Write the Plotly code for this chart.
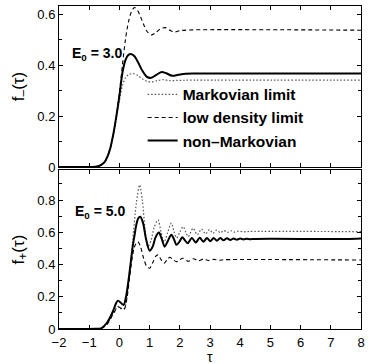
import plotly.graph_objects as go
from plotly.subplots import make_subplots

# ---------- data: upper panel (E0 = 3.0), f_-(tau) ----------
top_markov_t = [-2, -1, -0.8, -0.67, -0.5, -0.4, -0.3, -0.2, -0.1, 0.0, 0.1, 0.2, 0.3, 0.45,
                0.6, 0.75, 0.9, 1.05, 1.25, 1.45, 1.65, 1.9, 2.5, 8]
top_markov_f = [0, 0, 0.001, 0.004, 0.017, 0.038, 0.072, 0.125, 0.195, 0.26, 0.32, 0.35, 0.362, 0.367,
                0.36, 0.347, 0.337, 0.334, 0.339, 0.343, 0.339, 0.34, 0.341, 0.341]

top_lowdens_t = [-2, -1, -0.8, -0.67, -0.5, -0.4, -0.3, -0.2, -0.1, 0.0, 0.1, 0.2, 0.3, 0.4,
                 0.5, 0.6, 0.7, 0.8, 0.9, 1.05, 1.2, 1.35, 1.53, 1.7, 1.83, 2.0, 2.3, 8]
top_lowdens_f = [0, 0, 0.001, 0.004, 0.018, 0.04, 0.075, 0.13, 0.2, 0.29, 0.40, 0.50, 0.57, 0.61,
                 0.626, 0.615, 0.59, 0.56, 0.535, 0.518, 0.527, 0.542, 0.547, 0.535, 0.53, 0.535, 0.538, 0.537]

top_nonmarkov_t = [-2, -1, -0.8, -0.67, -0.5, -0.4, -0.3, -0.2, -0.1, 0.0, 0.1, 0.2, 0.3, 0.4,
                   0.5, 0.6, 0.75, 0.9, 1.05, 1.2, 1.4, 1.55, 1.75, 1.95, 2.2, 2.5, 8]
top_nonmarkov_f = [0, 0, 0.001, 0.004, 0.018, 0.04, 0.075, 0.13, 0.2, 0.28, 0.37, 0.42, 0.44, 0.443,
                   0.435, 0.415, 0.38, 0.355, 0.35, 0.36, 0.373, 0.368, 0.358, 0.362, 0.366, 0.367, 0.367]

# ---------- data: lower panel (E0 = 5.0), f_+(tau) ----------
bot_markov_t = [-2, -1, -0.8, -0.6, -0.4, -0.2, -0.06, 0.0, 0.1, 0.17, 0.25, 0.33, 0.44, 0.56,
                0.67, 0.76, 0.85, 0.94, 1.05, 1.15, 1.28, 1.38, 1.48, 1.6, 1.72, 1.8, 1.89, 2.0,
                2.11, 2.2, 2.28, 2.44, 2.58, 2.72, 2.85, 2.98, 3.10, 3.22, 3.34, 3.46, 3.58, 3.70,
                3.82, 3.94, 4.1, 4.3, 8]
bot_markov_f = [0, 0, 0.001, 0.004, 0.035, 0.1, 0.14, 0.14, 0.125, 0.13, 0.2, 0.33, 0.55, 0.78,
                0.894, 0.80, 0.62, 0.51, 0.55, 0.63, 0.677, 0.60, 0.54, 0.60, 0.657, 0.61, 0.565, 0.60,
                0.635, 0.60, 0.573, 0.625, 0.585, 0.620, 0.590, 0.617, 0.594, 0.614, 0.597, 0.611, 0.599, 0.609,
                0.601, 0.607, 0.603, 0.605, 0.604]

bot_lowdens_t = [-2, -1, -0.8, -0.6, -0.4, -0.2, -0.06, 0.0, 0.1, 0.17, 0.25, 0.33, 0.44, 0.52,
                 0.61, 0.7, 0.8, 0.9, 1.0, 1.1, 1.2, 1.28, 1.38, 1.48, 1.58, 1.67, 1.78, 1.89, 2.0,
                 2.1, 2.28, 2.45, 2.62, 2.78, 2.95, 3.12, 3.3, 3.5, 8]
bot_lowdens_f = [0, 0, 0.001, 0.003, 0.03, 0.095, 0.135, 0.135, 0.12, 0.125, 0.19, 0.31, 0.46, 0.52,
                 0.542, 0.51, 0.44, 0.39, 0.377, 0.41, 0.45, 0.46, 0.43, 0.408, 0.43, 0.445, 0.43, 0.418, 0.43,
                 0.439, 0.42, 0.436, 0.423, 0.434, 0.425, 0.432, 0.427, 0.430, 0.428]

bot_nonmarkov_t = [-2, -1, -0.8, -0.61, -0.4, -0.22, -0.11, -0.05, 0.06, 0.14, 0.22, 0.30, 0.38, 0.44,
                   0.50, 0.56, 0.62, 0.69, 0.78, 0.88, 1.0, 1.1, 1.2, 1.31, 1.4, 1.5, 1.6, 1.72,
                   1.8, 1.89, 2.0, 2.08, 2.17, 2.26, 2.40, 2.53, 2.66, 2.78, 2.90, 3.01, 3.12, 3.23,
                   3.34, 3.45, 3.56, 3.67, 3.78, 3.89, 4.0, 4.11, 4.22, 4.33, 4.5, 7.5, 8]
bot_nonmarkov_f = [0, 0, 0.001, 0.004, 0.042, 0.107, 0.16, 0.176, 0.16, 0.149, 0.20, 0.30, 0.42, 0.51,
                   0.58, 0.646, 0.685, 0.697, 0.66, 0.56, 0.486, 0.51, 0.57, 0.598, 0.56, 0.511, 0.545, 0.584,
                   0.56, 0.522, 0.545, 0.57, 0.55, 0.532, 0.565, 0.537, 0.566, 0.541, 0.565, 0.545, 0.565, 0.548,
                   0.564, 0.550, 0.563, 0.552, 0.562, 0.554, 0.561, 0.556, 0.560, 0.557, 0.559, 0.559, 0.562]

legend_names = ["Markovian limit", "low density limit", "non\u2013Markovian"]
x_ticks = [-2, -1, 0, 1, 2, 3, 4, 5, 6, 7, 8]

styles = [dict(color="#555555", width=1.2, dash="1.5px,2px"),
          dict(color="black", width=1.1, dash="4px,3px"),
          dict(color="black", width=2.0, dash="solid")]

fig = make_subplots(rows=2, cols=1, shared_xaxes=True)

top_sets = [(top_markov_t, top_markov_f), (top_lowdens_t, top_lowdens_f), (top_nonmarkov_t, top_nonmarkov_f)]
bot_sets = [(bot_markov_t, bot_markov_f), (bot_lowdens_t, bot_lowdens_f), (bot_nonmarkov_t, bot_nonmarkov_f)]

for (t, f), name, st in zip(top_sets, legend_names, styles):
    fig.add_trace(go.Scatter(x=t, y=f, mode="lines", name=name, line=dict(shape="spline", smoothing=0.8, **st),
                             showlegend=True), row=1, col=1)
for (t, f), name, st in zip(bot_sets, legend_names, styles):
    fig.add_trace(go.Scatter(x=t, y=f, mode="lines", name=name, line=dict(shape="spline", smoothing=0.8, **st),
                             showlegend=False), row=2, col=1)

font = "Liberation Sans, Arial, Helvetica, sans-serif"
axis_common = dict(showline=True, linecolor="black", linewidth=1, mirror="allticks",
                   ticks="inside", ticklen=4, tickcolor="black", showgrid=False, zeroline=False,
                   automargin=False,
                   tickfont=dict(family=font, size=13, color="black"))

fig.update_xaxes(range=[-2, 8], tickvals=x_ticks, ticklabelstandoff=1, **axis_common)
fig.update_xaxes(showticklabels=False, row=1, col=1)

fig.update_yaxes(range=[0, 0.632], dtick=0.2, tickformat="~g",
                 minor=dict(dtick=0.1, ticks="inside", ticklen=3, tickcolor="black"),
                 title=dict(text="f<sub>\u2013</sub>(\u03c4)", font=dict(family=font, size=17, color="black"),
                            standoff=8),
                 **axis_common, row=1, col=1)
fig.update_yaxes(range=[0, 0.986], tickvals=[0, 0.2, 0.4, 0.6, 0.8], ticktext=["0", "0.2", "0.4", "0.6", "0.8"],
                 minor=dict(dtick=0.1, ticks="inside", ticklen=3, tickcolor="black"),
                 title=dict(text="f<sub>+</sub>(\u03c4)", font=dict(family=font, size=17, color="black"),
                            standoff=8),
                 **axis_common, row=2, col=1)

fig.update_layout(
    width=369, height=364,
    margin=dict(l=59, r=8, t=6, b=35),
    paper_bgcolor="white", plot_bgcolor="white",
    yaxis=dict(domain=[0.5015, 1.0]),
    yaxis2=dict(domain=[0.0, 0.492]),
    legend=dict(x=0.277, y=0.778, xanchor="left", yanchor="top", bgcolor="rgba(0,0,0,0)",
                font=dict(family=font, size=15.5, color="black", weight="bold"),
                tracegroupgap=0, itemwidth=30),
    annotations=[
        dict(text="<b>E<sub>0</sub> = 3.0</b>", x=0.035, y=0.85, xref="paper", yref="paper",
             xanchor="left", yanchor="middle", showarrow=False,
             font=dict(family=font, size=14, color="black")),
        dict(text="<b>E<sub>0</sub> = 5.0</b>", x=0.045, y=0.362, xref="paper", yref="paper",
             xanchor="left", yanchor="middle", showarrow=False,
             font=dict(family=font, size=14, color="black")),
        dict(text="\u03c4", x=0.5, y=-0.117, xref="paper", yref="paper",
             xanchor="center", yanchor="bottom", showarrow=False,
             font=dict(family=font, size=14, color="black")),
    ],
)

fig.write_html("out.html")
